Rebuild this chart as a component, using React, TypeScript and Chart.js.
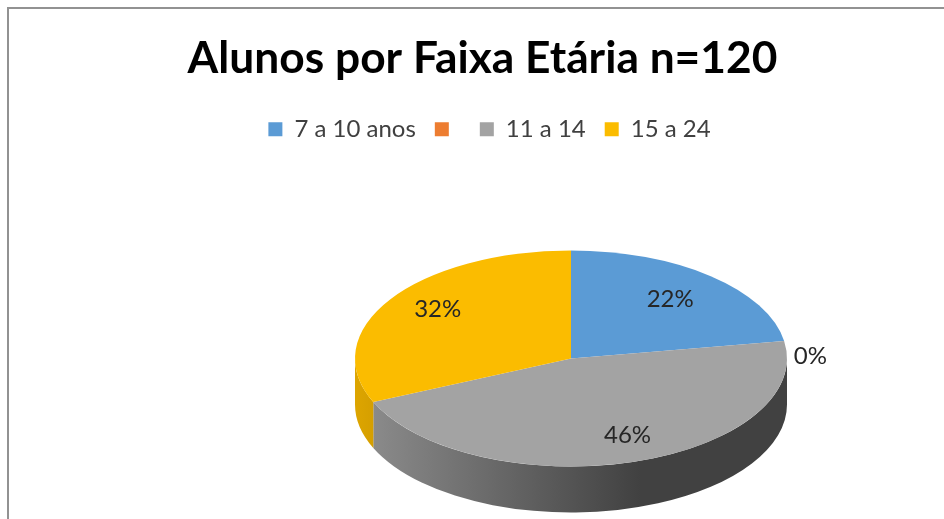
import { useEffect, useRef } from "react";
import { Chart, registerables } from "chart.js";

Chart.register(...registerables);

const titleText = "Alunos por Faixa Etária n=120";
const categories = ["7 a 10 anos", "", "11 a 14", "15 a 24"];
const percentages = [22.4, 0, 46, 31.6];
const sliceColors = ["#5B9BD5", "#ED7D31", "#A3A3A3", "#FBBC00"];
const labelRadiusFactor = [0.71, 1.1, 0.74, 0.77];
const labelNudge = [[0, -1], [5, 17], [11, 0], [6, -4]];

const FONT = "Lato, Carlito, Calibri, sans-serif";
const CX = 563; // pie centre in canvas coordinates
const CY = 350.5;
const SQUASH = 0.5;
const RADIUS = 216;
const DEPTH = 46;
const LEGEND_SHIFT = 7;

function shade(hex: string, f: number) {
  const n = parseInt(hex.slice(1), 16);
  const c = [(n >> 16) & 255, (n >> 8) & 255, n & 255].map((v) => Math.round(v * f));
  return `rgb(${c[0]},${c[1]},${c[2]})`;
}

const pie3d = {
  id: "pie3d",
  afterLayout(chart: any) {
    chart.legend.left += LEGEND_SHIFT;
    chart.legend.right += LEGEND_SHIFT;
  },
  beforeDatasetDraw(chart: any, args: any) {
    const { ctx } = chart;
    const meta = chart.getDatasetMeta(args.index);
    // side wall, front half only
    meta.data.forEach((arc: any, i: number) => {
      const a0 = Math.max(arc.startAngle, 0);
      const a1 = Math.min(arc.endAngle, Math.PI);
      if (a1 <= a0) return;
      const r = arc.outerRadius;
      const g = ctx.createLinearGradient(CX - r, 0, CX + r * 0.32, 0);
      g.addColorStop(0, shade(sliceColors[i], 0.88));
      g.addColorStop(1, shade(sliceColors[i], 0.4));
      ctx.save();
      ctx.fillStyle = g;
      ctx.beginPath();
      ctx.ellipse(CX, CY, r, r * SQUASH, 0, a0, a1);
      ctx.ellipse(CX, CY + DEPTH, r, r * SQUASH, 0, a1, a0, true);
      ctx.closePath();
      ctx.fill();
      ctx.restore();
    });
    // top face is the library's own arcs, viewed through a squash
    const first = meta.data[0];
    ctx.save();
    ctx.translate(CX, CY);
    ctx.scale(1, SQUASH);
    ctx.translate(-first.x, -first.y);
  },
  afterDatasetDraw(chart: any, args: any) {
    const { ctx } = chart;
    ctx.restore();
    const meta = chart.getDatasetMeta(args.index);
    ctx.save();
    ctx.font = `24px ${FONT}`;
    ctx.fillStyle = "#262626";
    ctx.textAlign = "center";
    ctx.textBaseline = "middle";
    meta.data.forEach((arc: any, i: number) => {
      const mid = (arc.startAngle + arc.endAngle) / 2;
      const d = arc.outerRadius * labelRadiusFactor[i];
      const x = CX + Math.cos(mid) * d + labelNudge[i][0];
      const y = CY + Math.sin(mid) * d * SQUASH + labelNudge[i][1];
      ctx.fillText(`${Math.round(percentages[i])}%`, x, y);
    });
    ctx.restore();
  },
};

export default function App() {
  const ref = useRef<HTMLCanvasElement>(null);
  useEffect(() => {
    const chart = new Chart(ref.current!, {
      type: "pie",
      data: {
        labels: categories,
        datasets: [
          {
            data: percentages,
            backgroundColor: sliceColors,
            borderWidth: 0,
            clip: false,
          } as any,
        ],
      },
      options: {
        responsive: false,
        animation: false,
        radius: RADIUS,
        plugins: {
          title: {
            display: true,
            text: titleText,
            color: "#000000",
            font: { family: FONT, size: 44.3, weight: "bold" },
            padding: { top: 24.5, bottom: 12.5 },
          },
          legend: {
            position: "top",
            labels: {
              boxWidth: 14,
              boxHeight: 14,
              padding: 19,
              color: "#404040",
              font: { family: FONT, size: 24 },
            },
          },
          tooltip: { enabled: false },
        },
      } as any,
      plugins: [pie3d],
    });
    return () => chart.destroy();
  }, []);
  return (
    <div style={{ position: "fixed", left: 0, top: 0, width: 944, height: 519, overflow: "hidden", background: "#fff" }}>
      <div style={{ position: "absolute", left: 7, top: 7, width: 950, height: 601, borderLeft: "2px solid #929292", borderTop: "2px solid #929292", boxSizing: "border-box" }} />
      <canvas ref={ref} width={949} height={600} style={{ position: "absolute", left: 8, top: 8, width: 949, height: 600, filter: "blur(0.4px)" }} />
    </div>
  );
}
